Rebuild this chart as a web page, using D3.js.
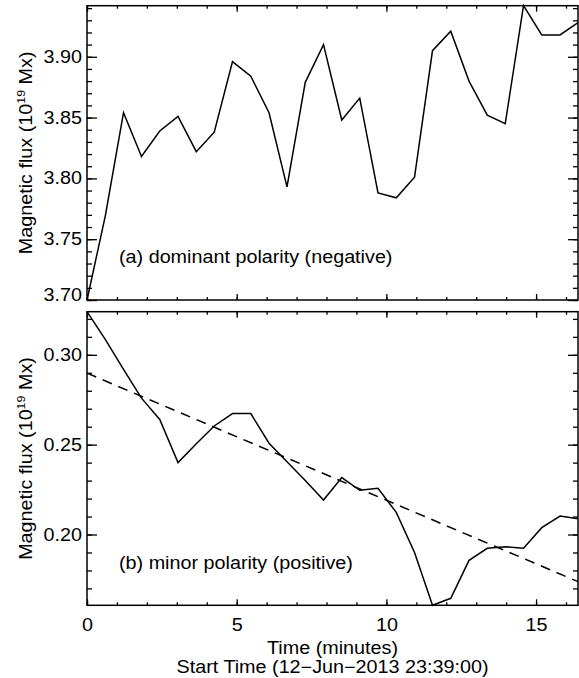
<!DOCTYPE html>
<html>
<head>
<meta charset="utf-8">
<script src="https://cdn.jsdelivr.net/npm/d3@7"></script>
<style>
  body { margin:0; background:#fff; }
  svg { display:block; }
  text { font-family:"Liberation Sans", Arial, Helvetica, sans-serif; font-size:17.5px; fill:#000; }
</style>
</head>
<body>
<svg width="579" height="678"></svg>
<script>
// time since start, minutes
var times = [0, 0.61, 1.22, 1.82, 2.43, 3.04, 3.65, 4.25, 4.86, 5.47,
             6.08, 6.68, 7.29, 7.90, 8.51, 9.11, 9.72, 10.33, 10.94, 11.54,
             12.15, 12.76, 13.37, 13.97, 14.58, 15.19, 15.80, 16.40];

// (a) dominant polarity, 10^19 Mx
var dominantFlux = [3.700, 3.769, 3.854, 3.818, 3.839, 3.851, 3.822, 3.838, 3.896, 3.884,
                    3.854, 3.793, 3.879, 3.910, 3.848, 3.866, 3.788, 3.784, 3.801, 3.905,
                    3.921, 3.880, 3.852, 3.845, 3.942, 3.918, 3.918, 3.928];

// (b) minor polarity, 10^19 Mx
var minorFlux = [0.3240, 0.3086, 0.2919, 0.2759, 0.2640, 0.2400, 0.2505, 0.2604, 0.2673, 0.2673,
                 0.2508, 0.2405, 0.2300, 0.2192, 0.2317, 0.2246, 0.2257, 0.2123, 0.1900, 0.1606,
                 0.1645, 0.1856, 0.1923, 0.1932, 0.1924, 0.2038, 0.2103, 0.2088];

// linear fit drawn dashed over panel (b)
var trendTimes = [0, 16.40];
var trendFlux = [0.2898, 0.1738];

var xTicks = [0, 5, 10, 15];
var dominantTicks = [3.70, 3.75, 3.80, 3.85, 3.90];
var minorTicks = [0.20, 0.25, 0.30];

var left = 87, right = 578, sx = 1.13;
var svg = d3.select('svg');

var x = d3.scaleLinear()
          .domain([0, d3.max(times)])
          .range([left, right]);

var xMinor = d3.range(0, 17);

var panels = [
  { top: 5.7, bottom: 300, values: dominantFlux, major: dominantTicks,
    label: '(a) dominant polarity (negative)', labelY: 263, showX: false },
  { top: 311.7, bottom: 605.3, values: minorFlux, major: minorTicks,
    label: '(b) minor polarity (positive)', labelY: 569, showX: true, trend: true }
];

function cleanAxis(g) {
  g.select('.domain').remove();
  g.selectAll('line').attr('stroke', '#000').attr('stroke-width', 1.3);
}

function widen(g) {
  g.selectAll('text').each(function() {
    var t = d3.select(this);
    if (t.attr('x') != null) t.attr('x', +t.attr('x') / sx);
    t.attr('transform', 'scale(' + sx + ',1)');
  });
}

panels.forEach(function(p) {
  var y = d3.scaleLinear()
            .domain(d3.extent(p.values))
            .range([p.bottom, p.top]);

  var ext = y.domain();
  var yMinor = d3.range(Math.ceil(ext[0] * 100 - 1e-6), Math.floor(ext[1] * 100 + 1e-6) + 1)
                 .map(function(d) { return d / 100; });

  var g = svg.append('g');

  // y ticks, left and right, pointing in
  g.append('g').attr('transform', 'translate(' + left + ',0)')
   .call(d3.axisLeft(y).tickValues(yMinor).tickSize(-5).tickFormat(''))
   .call(cleanAxis);
  var yl = g.append('g').attr('transform', 'translate(' + left + ',0)')
   .call(d3.axisLeft(y).tickValues(p.major).tickSize(-10).tickPadding(5)
           .tickFormat(d3.format('.2f')))
   .call(cleanAxis)
   .call(widen);
  // keep the lowest label inside the frame
  yl.selectAll('text')
    .filter(function(d) { return p.bottom - y(d) < 6; })
    .attr('y', -5);

  g.append('g').attr('transform', 'translate(' + right + ',0)')
   .call(d3.axisRight(y).tickValues(yMinor).tickSize(-5).tickFormat(''))
   .call(cleanAxis);
  g.append('g').attr('transform', 'translate(' + right + ',0)')
   .call(d3.axisRight(y).tickValues(p.major).tickSize(-10).tickFormat(''))
   .call(cleanAxis);

  // x ticks, top and bottom
  g.append('g').attr('transform', 'translate(0,' + p.top + ')')
   .call(d3.axisTop(x).tickValues(xMinor).tickSize(-3).tickFormat(''))
   .call(cleanAxis);
  g.append('g').attr('transform', 'translate(0,' + p.top + ')')
   .call(d3.axisTop(x).tickValues(xTicks).tickSize(-6).tickFormat(''))
   .call(cleanAxis);
  g.append('g').attr('transform', 'translate(0,' + p.bottom + ')')
   .call(d3.axisBottom(x).tickValues(xMinor).tickSize(-3).tickFormat(''))
   .call(cleanAxis);
  g.append('g').attr('transform', 'translate(0,' + p.bottom + ')')
   .call(d3.axisBottom(x).tickValues(xTicks).tickSize(-6).tickPadding(13.5)
           .tickFormat(p.showX ? d3.format('d') : ''))
   .call(cleanAxis)
   .call(widen);

  g.append('rect')
   .attr('x', left).attr('y', p.top)
   .attr('width', right - left).attr('height', p.bottom - p.top)
   .attr('fill', 'none').attr('stroke', '#000').attr('stroke-width', 1.5);

  var line = d3.line()
               .x(function(d, i) { return x(times[i]); })
               .y(function(d) { return y(d); });

  g.append('path')
   .datum(p.values)
   .attr('d', line)
   .attr('fill', 'none')
   .attr('stroke', '#000')
   .attr('stroke-width', 1.5)
   .attr('stroke-linejoin', 'miter');

  if (p.trend) {
    var tline = d3.line()
                  .x(function(d, i) { return x(trendTimes[i]); })
                  .y(function(d) { return y(d); });
    g.append('path')
     .datum(trendFlux)
     .attr('d', tline)
     .attr('fill', 'none')
     .attr('stroke', '#000')
     .attr('stroke-width', 1.5)
     .attr('stroke-dasharray', '10,7');
  }

  g.append('text')
   .attr('transform', 'translate(119,' + p.labelY + ') scale(' + sx + ',1)')
   .text(p.label);

  var yt = g.append('text')
   .attr('transform', 'translate(31.5,' + (p.top + p.bottom) / 2 + ') rotate(-90) scale(' + sx + ',1)')
   .attr('text-anchor', 'middle');
  yt.append('tspan').text('Magnetic flux (10');
  yt.append('tspan').attr('dy', -7).style('font-size', '11px').text('19');
  yt.append('tspan').attr('dy', 7).text(' Mx)');
});

var xc = (left + right) / 2;
svg.append('text')
   .attr('transform', 'translate(' + xc + ',654) scale(' + sx + ',1)')
   .attr('text-anchor', 'middle')
   .text('Time (minutes)');
svg.append('text')
   .attr('transform', 'translate(' + xc + ',673) scale(' + sx + ',1)')
   .attr('text-anchor', 'middle')
   .text('Start Time (12\u2212Jun\u22122013 23:39:00)');
</script>
</body>
</html>
